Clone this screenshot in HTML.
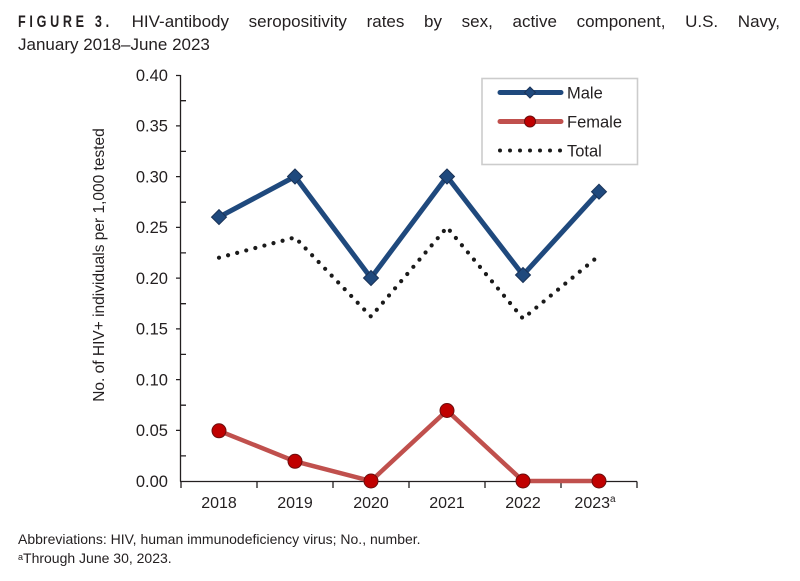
<!DOCTYPE html>
<html><head><meta charset="utf-8"><style>
html,body{margin:0;padding:0;background:#fff;}
body{width:800px;height:581px;position:relative;overflow:hidden;font-family:"Liberation Sans",Arial,sans-serif;color:#231f20;}
#t1{position:absolute;left:18px;top:10px;width:762px;font-size:17px;line-height:23px;display:flex;justify-content:space-between;white-space:nowrap;}
#t2{position:absolute;left:18px;top:33px;font-size:17px;line-height:23px;white-space:nowrap;}
#fig{display:inline-block;width:94px;position:relative;}
#fig span{display:inline-block;font-weight:bold;letter-spacing:5px;transform:scaleX(0.74);transform-origin:0 50%;}
#foot{position:absolute;left:18px;top:530px;font-size:14px;line-height:19px;}
#foot sup{font-size:9px;vertical-align:top;position:relative;top:-1px;}
svg{position:absolute;left:0;top:0;}
</style></head><body>
<div id="t1"><span id="fig"><span>FIGURE 3.</span></span><span>HIV-antibody</span><span>seropositivity</span><span>rates</span><span>by</span><span>sex,</span><span>active</span><span>component,</span><span>U.S.</span><span>Navy,</span></div>
<div id="t2">January 2018–June 2023</div>
<svg width="800" height="581" viewBox="0 0 800 581" font-family="Liberation Sans, Arial, sans-serif" fill="#231f20">
  <g stroke="#231f20" stroke-width="1.3" fill="none">
    <line x1="180.5" y1="75" x2="180.5" y2="481.5"/>
    <line x1="180" y1="481.5" x2="637" y2="481.5"/>
    <path d="M176 75.5H180.5M176 125.9H180.5M176 176.6H180.5M176 227.4H180.5M176 278.1H180.5M176 328.9H180.5M176 379.6H180.5M176 430.4H180.5"/>
    <path d="M180.5 100.7H186M180.5 151.4H186M180.5 202.2H186M180.5 252.9H186M180.5 303.7H186M180.5 354.4H186M180.5 405.2H186M180.5 455.9H186"/>
    <path d="M181 481.5V488M257 481.5V488M333 481.5V488M409 481.5V488M485 481.5V488M561 481.5V488M637 481.5V488"/>
  </g>
  <g font-size="16.5" text-anchor="end">
    <text x="168" y="81">0.40</text>
    <text x="168" y="131.5">0.35</text>
    <text x="168" y="182.3">0.30</text>
    <text x="168" y="233">0.25</text>
    <text x="168" y="283.8">0.20</text>
    <text x="168" y="334.5">0.15</text>
    <text x="168" y="385.3">0.10</text>
    <text x="168" y="436">0.05</text>
    <text x="168" y="487">0.00</text>
  </g>
  <g font-size="16" text-anchor="middle">
    <text x="219" y="508">2018</text>
    <text x="295" y="508">2019</text>
    <text x="371" y="508">2020</text>
    <text x="447" y="508">2021</text>
    <text x="523" y="508">2022</text>
    <text x="595" y="508">2023<tspan font-size="10" dy="-6">a</tspan></text>
  </g>
  <text transform="translate(104,265) rotate(-90)" font-size="15.5" text-anchor="middle">No. of HIV+ individuals per 1,000 tested</text>

  <polyline points="219,257.7 295,237.4 371,316.6 447,227.3 523,318.6 599,255.7" fill="none" stroke="#1a1a1a" stroke-width="4.2" stroke-linecap="round" stroke-dasharray="0 9.4"/>
  <polyline points="219,217.1 295,176.5 371,278 447,176.5 523,275 599,191.7" fill="none" stroke="#1f497d" stroke-width="5"/>
  <g fill="#1f497d" stroke="#1a3357" stroke-width="1">
    <path d="M219 209.6L226.5 217.1L219 224.6L211.5 217.1Z"/>
    <path d="M295 169L302.5 176.5L295 184L287.5 176.5Z"/>
    <path d="M371 270.5L378.5 278L371 285.5L363.5 278Z"/>
    <path d="M447 169L454.5 176.5L447 184L439.5 176.5Z"/>
    <path d="M523 267.5L530.5 275L523 282.5L515.5 275Z"/>
    <path d="M599 184.2L606.5 191.7L599 199.2L591.5 191.7Z"/>
  </g>
  <polyline points="219,430.8 295,461.3 371,481 447,410.5 523,481 599,481" fill="none" stroke="#c0504d" stroke-width="4.5"/>
  <g fill="#c00000" stroke="#6b0d0d" stroke-width="1">
    <circle cx="219" cy="430.8" r="7"/>
    <circle cx="295" cy="461.3" r="7"/>
    <circle cx="371" cy="481" r="7"/>
    <circle cx="447" cy="410.5" r="7"/>
    <circle cx="523" cy="481" r="7"/>
    <circle cx="599" cy="481" r="7"/>
  </g>

  <rect x="482" y="78.5" width="155.5" height="86" fill="#fff" stroke="#cccccc" stroke-width="1.6"/>
  <line x1="500" y1="92.5" x2="561" y2="92.5" stroke="#1f497d" stroke-width="5" stroke-linecap="round"/>
  <path d="M530 87L535.5 92.5L530 98L524.5 92.5Z" fill="#1f497d" stroke="#1a3357" stroke-width="1"/>
  <line x1="500" y1="121.5" x2="561" y2="121.5" stroke="#c0504d" stroke-width="5" stroke-linecap="round"/>
  <circle cx="530" cy="121.5" r="5.5" fill="#c00000" stroke="#6b0d0d" stroke-width="1"/>
  <line x1="500" y1="150.5" x2="561" y2="150.5" stroke="#1a1a1a" stroke-width="4" stroke-linecap="round" stroke-dasharray="0 10"/>
  <g font-size="16.5">
    <text x="567" y="98.5">Male</text>
    <text x="567" y="127.5">Female</text>
    <text x="567" y="156.5">Total</text>
  </g>
</svg>
<div id="foot">Abbreviations: HIV, human immunodeficiency virus; No., number.<br><sup>a</sup>Through June 30, 2023.</div>
</body></html>
